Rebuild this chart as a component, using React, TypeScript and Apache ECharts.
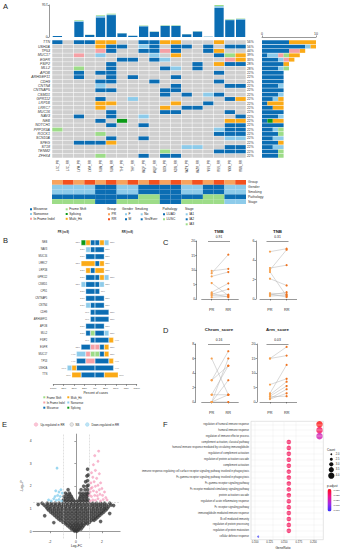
import React, { useEffect, useRef } from 'react';
import * as echarts from 'echarts';

const FONT = '"Liberation Sans", Arial, sans-serif';
const C_MIS = '#0b6db3', C_NON = '#8dcbea', C_INF = '#f5a0a5', C_FS = '#9ddc88', C_SPL = '#0c9a17', C_MULTI = '#fbaa17', C_NA = '#cfcfcf';

// ---------- Panel A ----------
const samples = ['LJC_PR','LJC_RR','LYM_PR','LYM_RR','SLW_PR','SLW_RR','THF_PR','THF_RR','WQF_PR','WQF_RR','XDX_PR','XDX_RR','WZY_PR','WZY_RR','YSS_PR','YSS_RR','YXX_PR','YXX_RR'];
const tmbMissense = [28, 0, 460, 62, 586, 655, 110, 36, 320, 155, 330, 330, 82, 165, 8, 870, 505, 525];
const tmbNonsense = [2, 0, 20, 4, 45, 22, 5, 3, 12, 8, 12, 12, 4, 8, 1, 55, 15, 15];
const tmbFrameShift = [0, 0, 20, 3, 20, 20, 3, 1, 13, 5, 13, 13, 3, 5, 1, 32, 13, 12];

const oncoGenes = ['TTN','USH2A','TP53','MUC17','EGFR','FSIP2','MLL2','APOB','ARHGEF11','CDH9','CNTN4','CNTNAP5','CSMD1','GPR112','LRP1B','LRRC7','MUC16','NAV3','NEB','NOTCH1','PPP1R3A','ROCK1','SCN10A','SPEG','ST18','TENM2','ZFHX4'];
const oncoPct = ['56%','56%','44%','39%','33%','28%','28%','22%','22%','22%','22%','22%','22%','22%','22%','22%','22%','22%','22%','22%','22%','22%','22%','22%','22%','22%','22%'];
// M missense, N nonsense, I in-frame indel, F frame shift, S splicing, X multi hit, . none
const oncoMatrix = [
  'M.MMXX..MMXX...X..',
  '....XMM.NM.MM.M.MM',
  '....IM..MMIM..MX..',
  '..I.N....N.X...MFX',
  '......MM.MN.....IX',
  '.....M.......M.XMM',
  '..F..M....MN.M....',
  '..M.MM.........M..',
  '..M..M.M...M......',
  '....MM...M.....M..',
  '....N......M....MM',
  '....MM....MM......',
  '..........M.M.NM..',
  '....M..N........MX',
  '....XX.....X..M...',
  '....X.....X.MM....',
  '.....M....MM....M.',
  '..M..M..N........M',
  '....M.S.........XX',
  '.....M..M.......MM',
  'F..............NMM',
  '....F..........MMM',
  '.....M..M.......NN',
  '..MMMX............',
  '............NN..MM',
  '..........F....MMM',
  '....F...M.MM......',
];
const annoTracks = ['Group','Gender','Smoking','Pathology','Stage'];
const annoGroup = ['PR','RR','PR','RR','PR','RR','PR','RR','PR','RR','PR','RR','PR','RR','PR','RR','PR','RR'];
const annoGender = ['F','F','F','F','M','M','F','F','M','M','M','M','F','F','M','M','F','F'];
const annoSmoking = ['No','No','No','No','Yes/Ever','Yes/Ever','No','No','Yes/Ever','Yes/Ever','Yes/Ever','Yes/Ever','No','No','Yes/Ever','Yes/Ever','No','No'];
const annoPathology = ['LUAD','LUAD','LUAD','LUAD','LUAD','LUAD','LUAD','LUAD','LUSC','LUSC','LUAD','LUAD','LUAD','LUAD','LUSC','LUSC','LUAD','LUAD'];
const annoStage = ['IA3','IA3','IA3','IA3','IA2','IA2','IA3','IA3','IA3','IA3','IA2','IA2','IA3','IA3','IA3','IA3','IA1','IA1'];

// ---------- Panel B ----------
const bGenes = ['NEB','NAV3','MUC16','LRRC7','LRP1B','GPR112','CSMD1','CPS1','CNTNAP5','CNTN4','CDH9','ARHGEF11','APOB','MLL2','FSIP2','EGFR','MUC17','TP53','USH2A','TTN'];
const bPR_FS    = [0,0,0,0,0,0,0,0,0,0,0,0,0,1,0,0,1,0,0,0];
const bPR_IF    = [0,0,0,0,0,0,0,0,0,0,0,0,0,0,0,1,1,2,0,0];
const bPR_MIS   = [1,1,2,0,1,2,2,2,2,1,1,1,2,1,1,2,0,2,4,3];
const bPR_MULTI = [1,0,0,3,1,0,0,0,0,0,0,0,0,0,0,0,0,0,1,2];
const bPR_NON   = [0,1,0,0,0,0,1,0,0,1,0,0,0,0,0,0,2,0,1,0];
const bPR_SPL   = [1,0,0,0,0,0,0,0,0,0,0,0,0,0,0,0,0,0,0,0];
const bRR_FS    = [0,0,0,0,0,0,0,0,0,0,0,0,0,0,0,0,1,0,0,0];
const bRR_IF    = [0,0,0,0,0,0,0,0,0,0,0,0,0,0,0,1,0,0,0,0];
const bRR_MIS   = [1,2,2,1,0,1,1,1,2,2,3,3,2,2,3,1,1,3,4,2];
const bRR_MULTI = [1,0,0,1,2,1,0,0,0,0,0,0,0,0,1,1,1,1,0,3];
const bRR_NON   = [1,0,0,0,0,1,1,0,0,0,0,0,0,1,0,0,0,0,0,0];
const bRR_SPL   = [0,0,0,0,0,0,0,0,0,0,0,0,0,0,0,0,0,0,0,0];
const bCases = 9;

// ---------- Panels C / D ----------
const tmbPR = [9.7, 8.9, 7.8, 5.5, 2.3, 1.9, 1.6, 1.2, 0.6];
const tmbRR = [10.4, 15.3, 9.3, 1.2, 5.4, 0.6, 3.4, 1.5, 0.9];
const tnbPR = [4.9, 3.2, 3.0, 2.8, 2.1, 0.6, 0.5, 0.4, 0.3];
const tnbRR = [5.2, 3.5, 5.1, 0.3, 1.4, 0.5, 0.2, 0.7, 0.4];
const chromPR = [6, 3, 3, 1, 1, 0, 0, 0, 0];
const chromRR = [1, 5, 7, 5, 1, 6, 3, 1, 0];
const armPR = [15, 15, 6, 3, 2.5, 2, 1.8, 1.2, 1];
const armRR = [19, 16, 8, 12.8, 7, 5.5, 2, 4.4, 3];

// ---------- Panel E ----------
const volcanoNS = [
  [-0.1,0.03],[0,0.05],[0.1,0.03],[-0.2,0.1],[0.2,0.1],
  [-0.35,0.12],[-0.15,0.12],[0.05,0.12],[0.25,0.12],[0.4,0.12],
  [-0.5,0.2],[-0.3,0.2],[-0.1,0.2],[0.1,0.2],[0.3,0.2],[0.5,0.2],
  [-0.65,0.27],[-0.4,0.27],[-0.2,0.27],[0,0.27],[0.2,0.27],[0.4,0.27],[0.6,0.27],
  [-0.8,0.35],[-0.55,0.35],[-0.3,0.35],[-0.05,0.35],[0.2,0.35],[0.45,0.35],[0.7,0.35],[0.9,0.35],
  [-1.0,0.42],[-0.75,0.42],[-0.45,0.42],[-0.15,0.42],[0.15,0.42],[0.45,0.42],[0.75,0.42],[1.05,0.42],
  [-1.2,0.5],[-0.9,0.5],[-0.6,0.5],[-0.3,0.5],[0,0.5],[0.3,0.5],[0.6,0.5],[0.9,0.5],[1.2,0.5],[1.4,0.5],
  [-1.35,0.57],[-1.05,0.57],[-0.75,0.57],[-0.45,0.57],[-0.15,0.57],[0.15,0.57],[0.45,0.57],[0.75,0.57],[1.05,0.57],[1.35,0.57],[1.55,0.57],
  [-1.5,0.65],[-1.2,0.65],[-0.9,0.65],[-0.6,0.65],[-0.3,0.65],[0,0.65],[0.3,0.65],[0.6,0.65],[0.9,0.65],[1.2,0.65],[1.5,0.65],[1.7,0.65],
  [-1.65,0.72],[-1.35,0.72],[-1.05,0.72],[-0.75,0.72],[-0.45,0.72],[-0.15,0.72],[0.15,0.72],[0.45,0.72],[0.75,0.72],[1.05,0.72],[1.35,0.72],[1.65,0.72],[1.85,0.72],
  [-1.8,0.8],[-1.5,0.8],[-1.2,0.8],[-0.9,0.8],[-0.6,0.8],[-0.3,0.8],[0,0.8],[0.3,0.8],[0.6,0.8],[0.9,0.8],[1.2,0.8],[1.5,0.8],[1.8,0.8],[2.0,0.8],
  [-1.95,0.87],[-1.65,0.87],[-1.35,0.87],[-1.05,0.87],[-0.75,0.87],[-0.45,0.87],[-0.15,0.87],[0.15,0.87],[0.45,0.87],[0.75,0.87],[1.05,0.87],[1.35,0.87],[1.65,0.87],[1.95,0.87],[2.15,0.87],
  [-2.1,0.95],[-1.8,0.95],[-1.5,0.95],[-1.2,0.95],[-0.9,0.95],[-0.6,0.95],[-0.3,0.95],[0,0.95],[0.3,0.95],[0.6,0.95],[0.9,0.95],[1.2,0.95],[1.5,0.95],[1.8,0.95],[2.1,0.95],[2.3,0.95],
  [-2.2,1.02],[-1.95,1.02],[-1.65,1.02],[-1.35,1.02],[-1.05,1.02],[-0.75,1.02],[-0.45,1.02],[-0.15,1.02],[0.15,1.02],[0.45,1.02],[0.75,1.02],[1.05,1.02],[1.35,1.02],[1.65,1.02],[1.95,1.02],[2.2,1.02],[2.4,1.02],
  [-2.3,1.1],[-2.0,1.1],[-1.7,1.1],[-1.4,1.1],[-1.1,1.1],[-0.8,1.1],[-0.5,1.1],[-0.2,1.1],[0.1,1.1],[0.4,1.1],[0.7,1.1],[1.0,1.1],[1.3,1.1],[1.6,1.1],[1.9,1.1],[2.2,1.1],[2.5,1.1],
  [-2.45,1.18],[-2.15,1.18],[-1.85,1.18],[-1.55,1.18],[-1.25,1.18],[-0.95,1.18],[-0.65,1.18],[-0.35,1.18],[-0.05,1.18],[0.25,1.18],[0.55,1.18],[0.85,1.18],[1.15,1.18],[1.45,1.18],[1.75,1.18],[2.05,1.18],[2.35,1.18],[2.7,1.18],
  [-2.6,1.25],[-2.2,1.25],[-1.9,1.25],[-1.6,1.25],[-1.3,1.25],[-1.0,1.25],[-0.7,1.25],[-0.4,1.25],[-0.15,1.25],[0.15,1.25],[0.4,1.25],[0.7,1.25],[1.0,1.25],[1.3,1.25],[1.6,1.25],[1.9,1.25],[2.2,1.25],[2.6,1.25],
  [-0.85,1.33],[-0.6,1.33],[-0.35,1.33],[-0.1,1.33],[0.1,1.33],[0.35,1.33],[0.6,1.33],[0.85,1.33],
  [-0.95,1.4],[-0.7,1.4],[-0.45,1.4],[-0.2,1.4],[0.25,1.4],[0.5,1.4],[0.75,1.4],[0.95,1.4],
  [-0.8,1.48],[-0.55,1.48],[-0.3,1.48],[0.3,1.48],[0.55,1.48],[0.8,1.48],
  [-0.9,1.55],[-0.6,1.55],[-0.35,1.55],[0.35,1.55],[0.6,1.55],[0.85,1.55],
  [-0.7,1.63],[-0.45,1.63],[0.45,1.63],[0.7,1.63],[0.9,1.63],
  [-0.8,1.7],[-0.5,1.7],[0.3,1.7],[0.55,1.7],[0.8,1.7],[0.95,1.7],
  [-0.6,1.85],[0.4,1.85],[0.7,1.85],[0.9,1.85],
  [0.6,2.0],[0.85,2.0],[0.95,2.05],
  [0.75,2.2],[0.9,2.25],[0.85,2.45],[0.95,2.5],[0.9,2.75],
  [-2.9,1.2],[2.9,1.15],[2.6,0.8],[-2.4,0.7],[-1.7,0.4],[1.9,0.45],
];
const volcanoUp = [
  [1.1,1.35],[1.3,1.4],[1.5,1.38],[1.7,1.45],[1.9,1.35],[2.1,1.42],[2.3,1.5],[1.2,1.55],[1.45,1.6],[1.65,1.58],
  [1.85,1.65],[2.05,1.6],[1.1,1.75],[1.35,1.8],[1.6,1.75],[1.8,1.85],[2.0,1.9],[1.25,1.95],[1.5,2.0],[1.7,2.05],
  [1.15,2.15],[1.4,2.2],[1.9,2.15],[1.3,2.4],[1.6,2.35],[1.2,2.6],[1.5,2.7],[1.8,2.55],[1.35,2.95],[1.7,3.1],
  [1.45,3.35],[1.75,3.55],[2.2,1.75],[2.4,1.4],[1.05,1.6],[1.15,1.9],
];
const volcanoDown = [
  [-1.1,1.35],[-1.3,1.42],[-1.5,1.38],[-1.7,1.45],[-1.9,1.35],[-2.1,1.4],[-1.2,1.55],[-1.4,1.6],[-1.6,1.55],
  [-1.05,1.7],[-1.3,1.75],[-1.55,1.8],[-1.15,1.85],[-1.45,2.8],
];

// ---------- Panel F ----------
const fTerms = [
  'regulation of humoral immune response',
  'humoral immune response',
  'regulation of immune effector process',
  'complement activation, classical pathway',
  'humoral immune response mediated by circulating immunoglobulin',
  'regulation of complement activation',
  'regulation of protein activation cascade',
  'complement activation',
  'immune response-regulating cell surface receptor signaling pathway involved in phagocytosis',
  'Fc-gamma receptor signaling pathway involved in phagocytosis',
  'Fc-gamma receptor signaling pathway',
  'Fc receptor mediated stimulatory signaling pathway',
  'protein activation cascade',
  'regulation of acute inflammatory response',
  'Fc receptor signaling pathway',
  'immunoglobulin mediated immune response',
  'B cell mediated immunity',
  'regulation of protein processing',
  'regulation of protein maturation',
  'cellular defense response',
];
const fGeneRatio = [0.2105,0.2105,0.2105,0.1579,0.1579,0.1579,0.1579,0.1579,0.1579,0.1579,0.1579,0.1579,0.1579,0.1579,0.1579,0.1579,0.1579,0.1579,0.1579,0.1053];
const fCount = [4,4,4,3,3,3,3,3,3,3,3,3,3,3,3,3,3,3,3,2];
const fPadj = [0.031,0.026,0.019,0.026,0.026,0.026,0.026,0.026,0.026,0.026,0.026,0.026,0.026,0.026,0.026,0.026,0.026,0.026,0.026,0.005];
const fCountLegend = ['2.0','2.5','3.0','3.5','4.0'];
const fPadjLegend = ['0.030','0.025','0.020','0.015','0.010'];

// ---------- helpers ----------
const typeColor: any = { M: C_MIS, N: C_NON, I: C_INF, F: C_FS, S: C_SPL, X: C_MULTI, '.': C_NA };
const annoColor: any = { PR: '#f8a35e', RR: '#f4511e', F: C_NON, M: C_MIS, No: C_NON, 'Yes/Ever': C_MIS, LUAD: C_MIS, LUSC: C_FS, IA1: C_NON, IA2: C_MIS, IA3: C_FS };

function mk(base: any, o: any) {
  const r: any = { ...base };
  for (const k in o) {
    const v = o[k];
    r[k] = v && typeof v === 'object' && !Array.isArray(v) && base[k] && typeof base[k] === 'object' ? { ...base[k], ...v } : v;
  }
  return r;
}
const AX = {
  splitLine: { show: false },
  axisLine: { show: true, lineStyle: { color: '#333', width: 0.5 } },
  axisTick: { show: true, length: 1.5, lineStyle: { color: '#333', width: 0.5 } },
  axisLabel: { fontSize: 3.5, color: '#333', margin: 1.5, fontFamily: FONT },
};
const T = (x: number, y: number, text: string, size: number, st: any = {}, el: any = {}) => ({
  type: 'text', x, y, silent: true, ...el,
  style: { text, fontSize: size, fontFamily: FONT, fill: '#222', align: 'left', verticalAlign: 'middle', ...st },
});
const R = (x: number, y: number, w: number, h: number, fill: string) => ({ type: 'rect', silent: true, shape: { x, y, width: w, height: h }, style: { fill } });
const Cc = (x: number, y: number, r: number, fill: string, stroke?: string) => ({ type: 'circle', silent: true, shape: { cx: x, cy: y, r }, style: { fill, stroke: stroke || null, lineWidth: 0.4 } });
const L = (x1: number, y1: number, x2: number, y2: number, stroke = '#333') => ({ type: 'line', silent: true, shape: { x1, y1, x2, y2 }, style: { stroke, lineWidth: 0.5 } });

function buildOption() {
  const grid = [
    { left: 52, top: 5, width: 194, height: 32 },
    { left: 52, top: 40, width: 194, height: 118 },
    { left: 262, top: 40, width: 54, height: 118 },
    { left: 52, top: 180, width: 194, height: 24 },
    { left: 53.3, top: 239.2, width: 83.4, height: 139.2 },
    { left: 201.7, top: 241, width: 36.6, height: 58 },
    { left: 260, top: 241, width: 36.6, height: 58 },
    { left: 201.7, top: 344, width: 36.6, height: 58 },
    { left: 260, top: 344, width: 36.6, height: 58 },
    { left: 33, top: 434.1, width: 87.1, height: 104.4 },
    { left: 251, top: 421.3, width: 72.3, height: 118.4, show: true, borderColor: '#c8c8c8', borderWidth: 0.5, backgroundColor: '#fff' },
  ].map((g) => ({ containLabel: false, outerBoundsMode: 'none', ...g }));

  const pairX = (g: number) => mk(AX, {
    type: 'value', gridIndex: g, min: 0.4, max: 2.6, offset: 6,
    axisLabel: { customValues: [1, 2], formatter: (v: number) => (v === 1 ? 'PR' : 'RR'), fontSize: 3.8, margin: 2.5 },
    axisTick: { customValues: [1, 2], length: 1.5 },
  });
  const xAxis = [
    { type: 'category', gridIndex: 0, data: samples, show: false },
    mk(AX, { type: 'category', gridIndex: 1, data: samples, position: 'bottom', axisLine: { show: false }, axisTick: { show: false }, axisLabel: { rotate: 90, fontSize: 3, margin: 2, interval: 0 } }),
    mk(AX, { type: 'value', gridIndex: 2, position: 'top', min: 0, max: 10, interval: 10, offset: 3, axisLabel: { fontSize: 3.5, margin: 1.5 } }),
    { type: 'category', gridIndex: 3, data: samples, show: false },
    mk(AX, { type: 'value', gridIndex: 4, min: -100, max: 100, interval: 25, offset: 6, axisLabel: { fontSize: 2.5, margin: 2, formatter: (v: number) => Math.abs(v) + '%' } }),
    pairX(5), pairX(6), pairX(7), pairX(8),
    mk(AX, { type: 'value', gridIndex: 9, min: -3.3, max: 3.4, axisLabel: { customValues: [-2, 0, 2], fontSize: 3.3 }, axisTick: { customValues: [-2, 0, 2] } }),
    mk(AX, { type: 'value', gridIndex: 10, min: 0.093, max: 0.217, axisLine: { show: false }, axisLabel: { customValues: [0.1, 0.125, 0.15, 0.175, 0.2], formatter: (v: number) => v.toFixed(3), fontSize: 2.7 }, axisTick: { customValues: [0.1, 0.125, 0.15, 0.175, 0.2], lineStyle: { color: '#999', width: 0.4 } } }),
  ];
  const yAxis = [
    mk(AX, { type: 'value', gridIndex: 0, min: 0, max: 957, interval: 957, offset: 3, axisLabel: { fontSize: 3.3 } }),
    mk(AX, { type: 'category', gridIndex: 1, data: oncoGenes, inverse: true, axisLine: { show: false }, axisTick: { show: false }, axisLabel: { fontSize: 3.6, fontStyle: 'italic', margin: 2, interval: 0 } }),
    mk(AX, { type: 'category', gridIndex: 1, data: oncoPct, inverse: true, position: 'right', axisLine: { show: false }, axisTick: { show: false }, axisLabel: { fontSize: 3.3, margin: 1, interval: 0 } }),
    { type: 'category', gridIndex: 2, data: oncoGenes, inverse: true, show: false },
    mk(AX, { type: 'category', gridIndex: 3, data: annoTracks, inverse: true, position: 'right', axisLine: { show: false }, axisTick: { show: false }, axisLabel: { fontSize: 3.5, margin: 2, interval: 0 } }),
    mk(AX, { type: 'category', gridIndex: 4, data: bGenes, inverse: true, axisLine: { show: false }, axisTick: { show: false }, axisLabel: { fontSize: 2.6, margin: 6, interval: 0 } }),
    mk(AX, { type: 'value', gridIndex: 5, min: 0, max: 20, interval: 5, offset: 5 }),
    mk(AX, { type: 'value', gridIndex: 6, min: 0, max: 6, interval: 2, offset: 4 }),
    mk(AX, { type: 'value', gridIndex: 7, min: 0, max: 8, interval: 2, offset: 6 }),
    mk(AX, { type: 'value', gridIndex: 8, min: 0, max: 20, interval: 5, offset: 3 }),
    mk(AX, { type: 'value', gridIndex: 9, min: -0.3, max: 4.3, axisLabel: { customValues: [0, 1, 2, 3, 4], fontSize: 3.3 }, axisTick: { customValues: [0, 1, 2, 3, 4] } }),
    mk(AX, { type: 'category', gridIndex: 10, data: fTerms, inverse: true, axisLine: { show: false }, axisTick: { show: false }, axisLabel: { fontSize: 2.6, margin: 2, interval: 0 } }),
  ];

  const series: any[] = [];
  // A: top stacked bars
  [[tmbMissense, C_MIS, 'Missense'], [tmbNonsense, C_NON, 'Nonsense'], [tmbFrameShift, C_FS, 'Frame Shift']].forEach(([d, c, n]: any) => {
    series.push({ type: 'bar', name: n, xAxisIndex: 0, yAxisIndex: 0, stack: 'tmb', data: d, barCategoryGap: '14%', itemStyle: { color: c } });
  });
  // A: oncoprint
  const oncoCells: number[][] = [];
  const oncoCodes: string[] = [];
  oncoMatrix.forEach((row, r) => {
    for (let c = 0; c < row.length; c++) { oncoCells.push([c, r]); oncoCodes.push(row[c]); }
  });
  series.push({
    type: 'custom', xAxisIndex: 1, yAxisIndex: 1, data: oncoCells, encode: { x: 0, y: 1 },
    renderItem: (params: any, api: any) => {
      const p = api.coord([api.value(0), api.value(1)]);
      const s = api.size([1, 1]);
      return { type: 'rect', shape: { x: p[0] - s[0] / 2 + 0.25, y: p[1] - s[1] / 2 + 0.25, width: s[0] - 0.5, height: s[1] - 0.5 }, style: { fill: typeColor[oncoCodes[params.dataIndex]] } };
    },
  });
  // A: right bars per gene
  [['M', C_MIS], ['N', C_NON], ['I', C_INF], ['F', C_FS], ['S', C_SPL], ['X', C_MULTI]].forEach(([code, col]) => {
    series.push({
      type: 'bar', xAxisIndex: 2, yAxisIndex: 3, stack: 'genes', barCategoryGap: '12%', itemStyle: { color: col },
      data: oncoMatrix.map((row) => { const n = row.split('').filter((ch) => ch === code).length; return n === 0 ? '-' : n; }),
    });
  });
  // A: annotation tracks
  const annoRows = [annoGroup, annoGender, annoSmoking, annoPathology, annoStage];
  const annoCells: number[][] = [];
  const annoCols: string[] = [];
  annoRows.forEach((row, r) => row.forEach((v, c) => { annoCells.push([c, r]); annoCols.push(annoColor[v]); }));
  series.push({
    type: 'custom', xAxisIndex: 3, yAxisIndex: 4, data: annoCells, encode: { x: 0, y: 1 },
    renderItem: (params: any, api: any) => {
      const p = api.coord([api.value(0), api.value(1)]);
      const s = api.size([1, 1]);
      return { type: 'rect', shape: { x: p[0] - s[0] / 2, y: p[1] - s[1] / 2, width: s[0], height: s[1] }, style: { fill: annoCols[params.dataIndex] } };
    },
  });
  // B: butterfly
  const bTypes = [
    [bPR_FS, bRR_FS, C_FS], [bPR_IF, bRR_IF, C_INF], [bPR_MIS, bRR_MIS, C_MIS],
    [bPR_MULTI, bRR_MULTI, C_MULTI], [bPR_NON, bRR_NON, C_NON], [bPR_SPL, bRR_SPL, C_SPL],
  ];
  bTypes.forEach(([pr, rr, col]: any) => {
    const st = { color: col, borderColor: '#fff', borderWidth: 0.3 };
    series.push({ type: 'bar', xAxisIndex: 4, yAxisIndex: 5, stack: 'b', barCategoryGap: '22%', itemStyle: st, data: pr.map((v: number) => (v ? (-v / bCases) * 100 : '-')) });
    series.push({ type: 'bar', xAxisIndex: 4, yAxisIndex: 5, stack: 'b', barCategoryGap: '22%', itemStyle: st, data: rr.map((v: number) => (v ? (v / bCases) * 100 : '-')) });
  });
  const prTot = bGenes.map((_, i) => bTypes.reduce((s, t: any) => s + t[0][i], 0));
  const rrTot = bGenes.map((_, i) => bTypes.reduce((s, t: any) => s + t[1][i], 0));
  const lblSeries = (tot: number[], sign: number) => ({
    type: 'scatter', xAxisIndex: 4, yAxisIndex: 5, symbolSize: 0.01, silent: true,
    data: tot.map((t, i) => [sign * (t / bCases) * 100, i, Math.round((t / bCases) * 100)]),
    label: { show: true, position: sign < 0 ? 'left' : 'right', distance: 1, fontSize: 2.3, color: '#444', fontFamily: FONT, formatter: (p: any) => p.value[2] + '%' },
  });
  series.push(lblSeries(prTot, -1), lblSeries(rrTot, 1));
  // C/D: paired plots
  const pairs = [[5, 6, tmbPR, tmbRR], [6, 7, tnbPR, tnbRR], [7, 8, chromPR, chromRR], [8, 9, armPR, armRR]];
  pairs.forEach(([xi, yi, pr, rr]: any) => {
    const data = pr.map((a: number, i: number) => [1, a, rr[i]]);
    series.push({
      type: 'custom', xAxisIndex: xi, yAxisIndex: yi, data, encode: { x: 0, y: 1 }, silent: true,
      renderItem: (params: any, api: any) => {
        const p1 = api.coord([1, api.value(1)]);
        const p2 = api.coord([2, api.value(2)]);
        return { type: 'line', shape: { x1: p1[0], y1: p1[1], x2: p2[0], y2: p2[1] }, style: { stroke: '#b3b3b3', lineWidth: 0.5 } };
      },
    });
    series.push({
      type: 'custom', xAxisIndex: xi, yAxisIndex: yi, data, encode: { x: 0, y: 1 }, silent: true,
      renderItem: (params: any, api: any) => {
        const p1 = api.coord([1, api.value(1)]);
        const p2 = api.coord([2, api.value(2)]);
        return {
          type: 'group', children: [
            { type: 'circle', shape: { cx: p1[0], cy: p1[1], r: 1.1 }, style: { fill: '#f7a04e' } },
            { type: 'circle', shape: { cx: p2[0], cy: p2[1], r: 1.1 }, style: { fill: '#f07420' } },
          ],
        };
      },
    });
  });
  // E: volcano
  series.push({
    type: 'scatter', xAxisIndex: 9, yAxisIndex: 10, data: [], z: 1, silent: true,
    markLine: { silent: true, symbol: ['none', 'none'], label: { show: false }, lineStyle: { type: 'dashed', color: '#c0c0c0', width: 0.5 }, data: [{ xAxis: -1 }, { xAxis: 1 }, { yAxis: 1.3 }] },
  });
  series.push({ type: 'scatter', xAxisIndex: 9, yAxisIndex: 10, data: volcanoNS, symbolSize: 3.4, z: 2, silent: true, itemStyle: { color: '#3c3c3c', borderColor: '#262626', borderWidth: 0.2 } });
  series.push({ type: 'scatter', xAxisIndex: 9, yAxisIndex: 10, data: volcanoUp, symbolSize: 2.4, z: 3, silent: true, itemStyle: { color: '#f7a8c4', borderColor: '#ef7fa7', borderWidth: 0.3 } });
  series.push({ type: 'scatter', xAxisIndex: 9, yAxisIndex: 10, data: volcanoDown, symbolSize: 2.4, z: 3, silent: true, itemStyle: { color: '#8fd2f0', borderColor: '#4bb5e3', borderWidth: 0.3 } });
  // F: dot plot
  series.push({
    type: 'scatter', xAxisIndex: 10, yAxisIndex: 11, data: [], z: 1, silent: true,
    markLine: {
      silent: true, symbol: ['none', 'none'], label: { show: false }, lineStyle: { type: 'solid', color: '#ececec', width: 0.4 },
      data: [...[0.1, 0.125, 0.15, 0.175, 0.2].map((v) => ({ xAxis: v })), ...fTerms.map((_, i) => ({ yAxis: i }))],
    },
  });
  const fIdx = series.length;
  series.push({
    type: 'scatter', xAxisIndex: 10, yAxisIndex: 11, z: 3, silent: true,
    data: fTerms.map((_, i) => [fGeneRatio[i], i, fPadj[i], fCount[i]]),
    encode: { x: 0, y: 1 },
    symbolSize: (v: any) => [0, 0, 2, 4.6, 6.6][v[3]],
  });

  const g: any[] = [];
  // panel letters
  [['A', 3, 6], ['B', 3, 240], ['C', 163, 242], ['D', 163, 330], ['E', 2, 424], ['F', 163, 424]].forEach(([t, x, y]: any) => g.push(T(x, y, t, 7.5)));
  // A legend
  const ml = [['Missense', C_MIS, 31, 209.3], ['Nonsense', C_NON, 31, 214], ['In Frame Indel', C_INF, 31, 218.8], ['Frame Shift', C_FS, 66.7, 209.3], ['Splicing', C_SPL, 66.7, 214], ['Multi_Hit', C_MULTI, 66.7, 218.8]];
  ml.forEach(([t, c, x, y]: any) => { g.push(R(x - 1, y - 1, 2, 2, c)); g.push(T(x + 2.5, y, t, 3.3)); });
  [['Group', 107], ['Gender', 122], ['Smoking', 135], ['Pathology', 162.5], ['Stage', 185]].forEach(([t, x]: any) => g.push(T(x, 209.3, t, 3.3)));
  const al = [['PR', 109, 214.3], ['RR', 109, 219.3], ['F', 126, 214.3], ['M', 126, 219.3], ['No', 141.7, 214.3], ['Yes/Ever', 141.7, 219.3], ['LUAD', 164, 214.3], ['LUSC', 164, 219.3], ['IA1', 186.7, 214.3], ['IA2', 186.7, 219.3], ['IA3', 186.7, 224.3]];
  al.forEach(([t, x, y]: any) => { g.push(R(x - 1, y - 1, 2, 2, annoColor[t])); g.push(T(x + 2.5, y, t, 3.3)); });
  // B headers / axis title / legend
  g.push(T(63.3, 232.5, 'PR (n=9)', 2.7, { align: 'center', fontWeight: 'bold' }));
  g.push(T(127.3, 232.5, 'RR (n=9)', 2.7, { align: 'center', fontWeight: 'bold' }));
  g.push(T(95.7, 392.5, 'Percent of cases', 3.3, { align: 'center' }));
  const bl = [['Frame Shift', C_FS, 44.3, 397.3], ['In Frame Indel', C_INF, 44.3, 402.5], ['Missense', C_MIS, 44.3, 407.7], ['Multi_Hit', C_MULTI, 68.3, 397.3], ['Nonsense', C_NON, 68.3, 402.5], ['Splicing', C_SPL, 68.3, 407.7]];
  bl.forEach(([t, c, x, y]: any) => { g.push(R(x - 1, y - 1, 2, 2, c)); g.push(T(x + 2.5, y, t, 2.8)); });
  // C/D titles and p-values
  [['TMB', 219, 231.7, '0.91', 236.7, 241.5], ['TNB', 277.5, 231.7, '0.31', 236.7, 241.5], ['Chrom_score', 219, 329, '0.16', 339.5, 344.5], ['Arm_score', 277.5, 329, '0.03', 339.5, 344.5]].forEach(([t, x, y, p, py, ly]: any) => {
    g.push(T(x, y, t, 4.4, { align: 'center', fontWeight: 'bold' }));
    g.push(T(x, py, p, 3.3, { align: 'center' }));
    g.push(L(x - 11, ly, x + 11, ly));
  });
  // E legend + axis titles
  g.push(Cc(36, 424.5, 1.8, '#fbc6d6', '#f29bb9')); g.push(T(40.5, 424.5, 'Up-regulated in RR', 2.8));
  g.push(Cc(71.7, 424.5, 1.8, '#e8e8e8', '#999')); g.push(T(75.5, 424.5, 'NS', 2.8));
  g.push(Cc(87.3, 424.5, 1.8, '#bfe4f5', '#7cc8ec')); g.push(T(91.5, 424.5, 'Down-regulated in RR', 2.8));
  g.push(T(22, 486, '-Log₁₀P', 3.3, { align: 'center' }, { rotation: Math.PI / 2 }));
  g.push(T(76.5, 545.5, 'Log₂FC', 3.3, { align: 'center' }));
  // F legend / axis title
  g.push(T(283, 548, 'GeneRatio', 3.2, { align: 'center' }));
  g.push(T(327, 450, 'Count', 3));
  [454.3, 459.2, 464.3, 469.7, 475.7].forEach((y, i) => {
    g.push(Cc(331.3, y, [0.9, 1.5, 2.1, 2.6, 3.1][i], '#111'));
    g.push(T(335.8, y, fCountLegend[i], 2.6));
  });
  g.push(T(327, 486, 'p.adjust', 3));
  [490.7, 495.7, 500.7, 505.7, 510.7].forEach((y, i) => g.push(T(333.5, y, fPadjLegend[i], 2.4)));

  return {
    animation: false,
    backgroundColor: '#ffffff',
    textStyle: { fontFamily: FONT },
    grid, xAxis, yAxis, series,
    visualMap: [{
      type: 'continuous', seriesIndex: fIdx, dimension: 2, min: 0.005, max: 0.031,
      inRange: { color: ['#3232ff', '#a02ae8', '#f0148f', '#ff1010'] },
      orient: 'vertical', left: 327.5, top: 489, itemWidth: 4, itemHeight: 22.5, calculable: false, padding: 0, hoverLink: false,
    }],
    graphic: { elements: g },
  };
}

export default function App() {
  const ref = useRef<HTMLDivElement>(null);
  useEffect(() => {
    if (!ref.current) return;
    const chart = echarts.init(ref.current, null, { renderer: 'svg' });
    chart.setOption(buildOption() as any);
    return () => chart.dispose();
  }, []);
  return <div ref={ref} style={{ position: 'absolute', left: 0, top: 0, width: 342, height: 550, background: '#fff' }} />;
}
